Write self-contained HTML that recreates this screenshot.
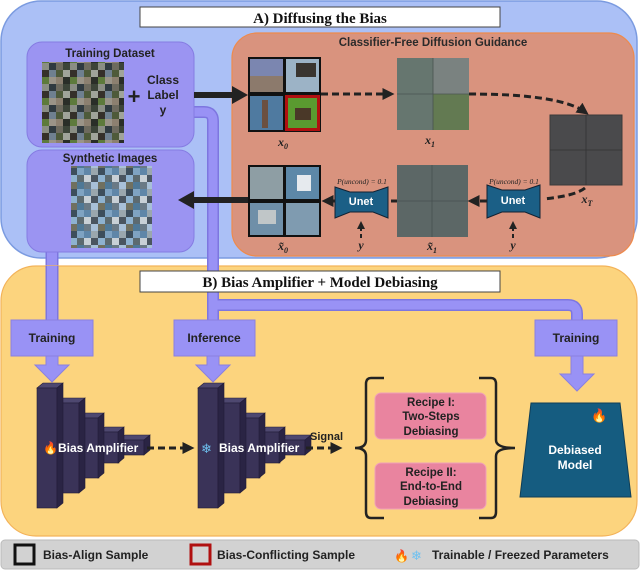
<!DOCTYPE html>
<html><head><meta charset="utf-8"><style>
body{margin:0;background:#fff;width:640px;height:570px;overflow:hidden}
svg{display:block;font-family:"Liberation Sans","DejaVu Sans",sans-serif}
</style></head><body>
<svg width="640" height="570" viewBox="0 0 640 570" xmlns="http://www.w3.org/2000/svg">
<defs>
<pattern id="mos" width="28" height="21" patternUnits="userSpaceOnUse">
<rect width="28" height="21" fill="#5a5c52"/>
<rect x="0" y="0" width="7" height="7" fill="#6d6a5e"/><rect x="7" y="0" width="7" height="7" fill="#3c4438"/><rect x="14" y="0" width="7" height="7" fill="#8a8e84"/><rect x="21" y="0" width="7" height="7" fill="#2f3a40"/>
<rect x="0" y="7" width="7" height="7" fill="#4e5a3a"/><rect x="7" y="7" width="7" height="7" fill="#a0a49a"/><rect x="14" y="7" width="7" height="7" fill="#35302a"/><rect x="21" y="7" width="7" height="7" fill="#6f8090"/>
<rect x="0" y="14" width="7" height="7" fill="#8c8070"/><rect x="7" y="14" width="7" height="7" fill="#2a2e28"/><rect x="14" y="14" width="7" height="7" fill="#5d7a3c"/><rect x="21" y="14" width="7" height="7" fill="#9a9488"/>
</pattern>
<pattern id="mos2" width="28" height="21" patternUnits="userSpaceOnUse">
<rect x="0" y="0" width="7" height="7" fill="#5f86a8"/><rect x="7" y="0" width="7" height="7" fill="#9aa7ae"/><rect x="14" y="0" width="7" height="7" fill="#3d4e5c"/><rect x="21" y="0" width="7" height="7" fill="#7fa3c2"/>
<rect x="0" y="7" width="7" height="7" fill="#c8d0d6"/><rect x="7" y="7" width="7" height="7" fill="#4a5560"/><rect x="14" y="7" width="7" height="7" fill="#8eb2d0"/><rect x="21" y="7" width="7" height="7" fill="#5c6a70"/>
<rect x="0" y="14" width="7" height="7" fill="#6a7a86"/><rect x="7" y="14" width="7" height="7" fill="#a8c0d8"/><rect x="14" y="14" width="7" height="7" fill="#707060"/><rect x="21" y="14" width="7" height="7" fill="#4f7896"/>
</pattern>
<marker id="ah" markerWidth="4" markerHeight="4" refX="2.5" refY="2" orient="auto" markerUnits="strokeWidth"><path d="M0,0 L4,2 L0,4z" fill="#222"/></marker>
</defs>

<rect x="1" y="1" width="636" height="257" rx="40" fill="#abc0f6" stroke="#7b9be0" stroke-width="1.5"/>
<rect x="140" y="7" width="360" height="20" fill="#fff" stroke="#444"/>
<text x="320" y="23" text-anchor="middle" font-size="15" font-weight="bold" font-family="Liberation Serif,serif" fill="#111">A) Diffusing the Bias</text>

<path d="M190,112 H204 Q213,112 213,121 V330" fill="none" stroke="#7d76e0" stroke-width="12"/>
<path d="M190,112 H204 Q213,112 213,121 V330" fill="none" stroke="#9992f5" stroke-width="9"/>
<path d="M52,248 V330" fill="none" stroke="#7d76e0" stroke-width="13"/>
<path d="M52,248 V330" fill="none" stroke="#9992f5" stroke-width="10"/>

<rect x="27" y="42" width="167" height="105" rx="15" fill="#9b94f2" stroke="#857be2"/>
<text x="110" y="57" text-anchor="middle" font-size="11.5" font-weight="bold" fill="#222">Training Dataset</text>
<rect x="42" y="62" width="82" height="81" fill="url(#mos)"/>
<text x="134" y="104" text-anchor="middle" font-size="22" font-weight="bold" fill="#222">+</text>
<text x="163" y="84" text-anchor="middle" font-size="12" font-weight="bold" fill="#222">Class</text>
<text x="163" y="99" text-anchor="middle" font-size="12" font-weight="bold" fill="#222">Label</text>
<text x="163" y="114" text-anchor="middle" font-size="12" font-weight="bold" fill="#222">y</text>

<rect x="27" y="150" width="167" height="102" rx="15" fill="#9b94f2" stroke="#857be2"/>
<text x="110" y="162" text-anchor="middle" font-size="11.5" font-weight="bold" fill="#222">Synthetic Images</text>
<rect x="71" y="166" width="81" height="82" fill="url(#mos2)"/>

<rect x="232" y="33" width="402" height="223" rx="25" fill="#d9937e" stroke="#ee8a4c" stroke-width="1.2"/>
<text x="433" y="46" text-anchor="middle" font-size="11.5" font-weight="bold" fill="#2a2a2a">Classifier-Free Diffusion Guidance</text>

<rect x="194" y="92" width="40" height="6" fill="#222"/><path d="M232,86 L248,95 L232,104z" fill="#222"/>
<rect x="192" y="197" width="56" height="6" fill="#222"/><path d="M194,191 L178,200 L194,209z" fill="#222"/>

<rect x="248" y="57" width="73" height="75" fill="#111"/>
<rect x="250" y="59" width="33" height="33" fill="#7b86b0"/><rect x="250" y="76" width="33" height="16" fill="#8c7a6c"/>
<rect x="286" y="59" width="33" height="33" fill="#9cb3c6"/><rect x="296" y="63" width="20" height="14" fill="#3a3530"/>
<rect x="250" y="96" width="33" height="34" fill="#4f7aa0"/><rect x="262" y="100" width="6" height="28" fill="#6b5040"/>
<rect x="285" y="95" width="35" height="36" fill="#b01010"/><rect x="288" y="98" width="29" height="30" fill="#5a9a30"/><rect x="295" y="108" width="16" height="12" fill="#4a3828"/>
<text x="283" y="146" text-anchor="middle" font-size="12" font-weight="bold" font-style="italic" font-family="Liberation Serif,serif" fill="#222">x<tspan font-size="8" dy="3">0</tspan></text>

<rect x="397" y="58" width="72" height="72" fill="#66766f"/>
<rect x="433" y="58" width="36" height="36" fill="#7a8280"/><rect x="433" y="94" width="36" height="36" fill="#637a52"/>
<line x1="433" y1="58" x2="433" y2="130" stroke="#4a5450" stroke-width="0.8"/><line x1="397" y1="94" x2="469" y2="94" stroke="#4a5450" stroke-width="0.8"/>
<text x="430" y="144" text-anchor="middle" font-size="12" font-weight="bold" font-style="italic" font-family="Liberation Serif,serif" fill="#222">x<tspan font-size="8" dy="3">1</tspan></text>

<rect x="550" y="115" width="72" height="70" fill="#4a4a4c" stroke="#3a3a3a"/>
<line x1="586" y1="115" x2="586" y2="185" stroke="#333" stroke-width="0.8"/><line x1="550" y1="150" x2="622" y2="150" stroke="#333" stroke-width="0.8"/>
<text x="587" y="203" text-anchor="middle" font-size="12" font-weight="bold" font-style="italic" font-family="Liberation Serif,serif" fill="#222">x<tspan font-size="8" dy="3">T</tspan></text>

<rect x="397" y="165" width="71" height="72" fill="#5c6766"/>
<line x1="432" y1="165" x2="432" y2="237" stroke="#465050" stroke-width="0.8"/><line x1="397" y1="201" x2="468" y2="201" stroke="#465050" stroke-width="0.8"/>
<text x="432" y="250" text-anchor="middle" font-size="12" font-weight="bold" font-style="italic" font-family="Liberation Serif,serif" fill="#222">x̃<tspan font-size="8" dy="3">1</tspan></text>

<rect x="248" y="165" width="73" height="72" fill="#111"/>
<rect x="250" y="167" width="33" height="32" fill="#8e9ea4"/><rect x="286" y="167" width="33" height="32" fill="#5d88a8"/><rect x="297" y="175" width="14" height="16" fill="#e6eaee"/>
<rect x="250" y="203" width="33" height="32" fill="#6f8fa8"/><rect x="258" y="210" width="18" height="14" fill="#c0c6c8"/><rect x="286" y="203" width="33" height="32" fill="#7f9bb0"/>
<text x="283" y="250" text-anchor="middle" font-size="12" font-weight="bold" font-style="italic" font-family="Liberation Serif,serif" fill="#222">x̃<tspan font-size="8" dy="3">0</tspan></text>

<g font-size="7.5" font-style="italic" font-family="Liberation Serif,serif" fill="#222" text-anchor="middle">
<text x="362" y="184">P(uncond) = 0.1</text><text x="514" y="184">P(uncond) = 0.1</text></g>
<polygon points="335,187 350,192 373,192 388,187 388,218 373,212 350,212 335,218" fill="#1b5f86" stroke="#123"/>
<polygon points="487,185 502,190 525,190 540,185 540,218 525,212 502,212 487,218" fill="#1b5f86" stroke="#123"/>
<text x="361" y="205" text-anchor="middle" font-size="11" font-weight="bold" fill="#fff">Unet</text>
<text x="513" y="204" text-anchor="middle" font-size="11" font-weight="bold" fill="#fff">Unet</text>

<g fill="none" stroke="#222" stroke-width="3" stroke-dasharray="7,4">
<path d="M321,94 H390" marker-end="url(#ah)"/>
<path d="M469,94 Q560,94 585,112" marker-end="url(#ah)"/>
<path d="M585,188 Q575,196 543,199" />
<path d="M487,201 H472" marker-end="url(#ah)"/>
<path d="M397,201 H391" />
<path d="M335,201 H326" marker-end="url(#ah)"/>
</g>
<g fill="none" stroke="#222" stroke-width="2" stroke-dasharray="4,3">
<path d="M361,238 V224" marker-end="url(#ah)"/><path d="M513,238 V224" marker-end="url(#ah)"/></g>
<g font-size="12" font-weight="bold" font-style="italic" font-family="Liberation Serif,serif" fill="#222" text-anchor="middle">
<text x="361" y="249">y</text><text x="513" y="249">y</text></g>

<rect x="1" y="266" width="636" height="270" rx="35" fill="#fcd47e" stroke="#f3b35a" stroke-width="1.2"/>
<path d="M52,266 V330" stroke="#7d76e0" stroke-width="13"/><path d="M52,266 V330" stroke="#9992f5" stroke-width="10"/>
<path d="M213,258 V330 M213,305 H568 Q577,305 577,314 V330" fill="none" stroke="#7d76e0" stroke-width="12"/>
<path d="M213,258 V330 M213,305 H568 Q577,305 577,314 V330" fill="none" stroke="#9992f5" stroke-width="9"/>
<rect x="140" y="271" width="360" height="21" fill="#fff" stroke="#444"/>
<text x="320" y="287" text-anchor="middle" font-size="15" font-weight="bold" font-family="Liberation Serif,serif" fill="#111">B) Bias Amplifier + Model Debiasing</text>

<g fill="#9992f5" stroke="#8a80e0">
<rect x="11" y="320" width="82" height="36"/><rect x="174" y="320" width="81" height="36"/><rect x="535" y="320" width="82" height="36"/>
<path d="M46,356 H58 V365 H69 L52,382 L35,365 H46z"/>
<path d="M207,356 H219 V365 H230 L213,382 L196,365 H207z"/>
<path d="M571,356 H583 V374 H594 L577,391 L560,374 H571z"/>
</g>
<g font-size="12" font-weight="bold" fill="#222" text-anchor="middle">
<text x="52" y="342">Training</text><text x="214" y="342">Inference</text><text x="576" y="342">Training</text></g>

<g id="st" fill="#3a3358" stroke="#221c38" stroke-width="0.6">
<polygon points="119,440 144,440 150,435 125,435" fill="#4e4870"/><rect x="119" y="440" width="25" height="15"/><polygon points="144,440 150,435 150,450 144,455" fill="#2a2444"/>
<polygon points="99,432 118,432 124,427 105,427" fill="#4e4870"/><rect x="99" y="432" width="20" height="31"/><polygon points="118,432 124,427 124,458 118,463" fill="#2a2444"/>
<polygon points="79,418 98,418 104,413 85,413" fill="#4e4870"/><rect x="79" y="418" width="20" height="60"/><polygon points="98,418 104,413 104,473 98,478" fill="#2a2444"/>
<polygon points="57,403 79,403 85,398 63,398" fill="#4e4870"/><rect x="57" y="403" width="22" height="90"/><polygon points="79,403 85,398 85,488 79,493" fill="#2a2444"/>
<polygon points="37,388 57,388 63,383 43,383" fill="#4e4870"/><rect x="37" y="388" width="20" height="120"/><polygon points="57,388 63,383 63,503 57,508" fill="#2a2444"/>
</g>
<use href="#st" x="161"/>
<text x="58" y="452" font-size="12" font-weight="bold" fill="#fff">Bias Amplifier</text>
<text x="43" y="452" font-size="12" fill="#f39a1a">🔥</text>
<text x="219" y="452" font-size="12" font-weight="bold" fill="#fff">Bias Amplifier</text>
<text x="201" y="453" font-size="13" fill="#6ec1f0">❄</text>

<g fill="none" stroke="#222" stroke-width="3" stroke-dasharray="7,4">
<path d="M147,448 H190" marker-end="url(#ah)"/><path d="M306,448 H338" marker-end="url(#ah)"/></g>
<text x="310" y="440" font-size="11" font-weight="bold" fill="#222">Signal</text>

<path d="M384,378 H371 Q366,378 366,384 V440 Q366,448 355,448 Q366,448 366,456 V512 Q366,518 371,518 H384" fill="none" stroke="#222" stroke-width="2.5"/>
<path d="M479,378 H491 Q496,378 496,384 V440 Q496,448 515,448 Q496,448 496,456 V512 Q496,518 491,518 H479" fill="none" stroke="#222" stroke-width="2.5"/>
<rect x="375" y="393" width="111" height="46" rx="6" fill="#e9849f" stroke="#f0a0b8"/>
<rect x="375" y="463" width="111" height="46" rx="6" fill="#e9849f" stroke="#f0a0b8"/>
<g font-size="11.5" font-weight="bold" fill="#222" text-anchor="middle">
<text x="431" y="406">Recipe I:</text><text x="431" y="420">Two-Steps</text><text x="431" y="435">Debiasing</text>
<text x="431" y="476">Recipe II:</text><text x="431" y="490">End-to-End</text><text x="431" y="505">Debiasing</text></g>

<polygon points="531,403 620,403 631,497 520,497" fill="#155c80" stroke="#0e3e58"/>
<text x="575" y="454" text-anchor="middle" font-size="12" font-weight="bold" fill="#fff">Debiased</text>
<text x="575" y="469" text-anchor="middle" font-size="12" font-weight="bold" fill="#fff">Model</text>
<text x="591" y="420" font-size="13" fill="#f39a1a">🔥</text>

<rect x="1" y="540" width="638" height="29" rx="4" fill="#d2d2d2" stroke="#bbb"/>
<rect x="15" y="545" width="19" height="19" fill="none" stroke="#111" stroke-width="3"/>
<text x="43" y="559" font-size="12" font-weight="bold" fill="#222">Bias-Align Sample</text>
<rect x="191" y="545" width="19" height="19" fill="none" stroke="#b01010" stroke-width="3"/>
<text x="217" y="559" font-size="12" font-weight="bold" fill="#222">Bias-Conflicting Sample</text>
<text x="394" y="560" font-size="12" fill="#f39a1a">🔥</text>
<text x="411" y="560" font-size="13" fill="#6ec1f0">❄</text>
<text x="432" y="559" font-size="12" font-weight="bold" fill="#222">Trainable / Freezed Parameters</text>
</svg>
</body></html>
